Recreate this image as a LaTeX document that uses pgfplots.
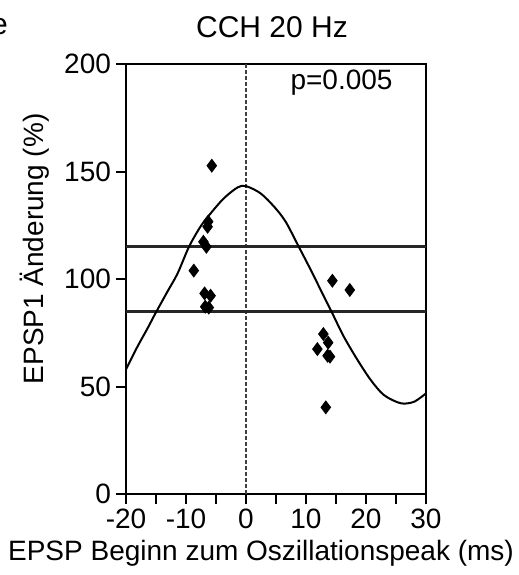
\documentclass[border=0pt]{standalone}
\usepackage{fontspec}
\setmainfont{Liberation Sans}
\usepackage{pgfplots}
\pgfplotsset{compat=1.18}
\usetikzlibrary{calc}

\begin{document}
\begin{tikzpicture}[font=\fontsize{14pt}{16pt}\selectfont]
\begin{axis}[
  name=ax,
  scale only axis,
  width=150pt, height=215pt,
  xmin=-20, xmax=30, ymin=0, ymax=200,
  xtick={-20,-10,0,10,20,30},
  minor xtick={-15,-5,5,15,25},
  ytick={0,50,100,150,200},
  tick pos=left,
  tick align=outside,
  major tick length=5pt,
  minor tick length=5pt,
  tick style={black, line width=1pt},
  axis line style={line width=1.4pt},
  /pgf/number format/assume math mode=true,
  xticklabel style={yshift=1pt},
  yticklabel style={xshift=1pt},
  xlabel={EPSP Beginn zum Oszillationspeak (ms)},
  xlabel style={at={(axis description cs:0.45,-0.137)}, anchor=center},
  ylabel={EPSP1 Änderung (\%)},
  ylabel style={at={(axis description cs:-0.303,0.57)}, anchor=center},
  clip=false,
]
% zero line
\addplot[black!75, line width=0.6pt, dash pattern=on 2pt off 1pt] coordinates {(0,0) (0,200)};
% significance bounds
\addplot[black!85, line width=1.3pt] coordinates {(-20,115) (30,115)};
\addplot[black!85, line width=1.3pt] coordinates {(-20,85) (30,85)};
% fitted oscillation
\addplot[black, line width=1pt, smooth, tension=0.5] coordinates {
  (-20,58) (-18.1,68.5) (-16.4,77.1) (-15.1,84) (-13.1,94.1) (-11.4,102.6)
  (-9.5,115) (-7.6,124.3) (-5.9,130.5) (-3.7,137.5) (-1.4,142.6) (0,143.2)
  (2.4,139.9) (4.7,133.6) (6.6,126.7) (8.8,115) (10.8,104.2) (13,91.8)
  (14.4,84) (16.3,73.2) (18.6,62.3) (20.8,53) (23,46) (25.8,42.2)
  (28,42.9) (30,46.8)
};
% EPSP data
\addplot[only marks, mark=diamond*, mark size=3.2pt, black] coordinates {
  (-5.7,152.7) (-6.3,126.7) (-6.4,124.3) (-7.1,117.3) (-6.6,115)
  (-8.7,103.9) (-6.9,93.3) (-5.9,92.2) (-6.8,87.1) (-6.2,86.7)
  (14.4,99.2) (17.3,94.9) (12.9,74.4) (13.7,70.4) (11.9,67.4)
  (13.6,64.3) (14.0,63.9) (13.3,40.3)
};
\node[anchor=east] at (axis cs:25.6,191.5) {p=0.005};
\end{axis}
\node[font=\fontsize{15pt}{17pt}\selectfont] at ($(ax.north west)+(73pt,18.5pt)$) {CCH 20 Hz};
\node[anchor=west, font=\fontsize{15pt}{17pt}\selectfont] at ($(ax.north west)+(-71pt,18.5pt)$) {e};
\pgfresetboundingbox
\path[use as bounding box] ($(ax.south west)+(-63pt,-40.5pt)$) rectangle ($(ax.south west)+(196.5pt,247pt)$);
\end{tikzpicture}
\end{document}
